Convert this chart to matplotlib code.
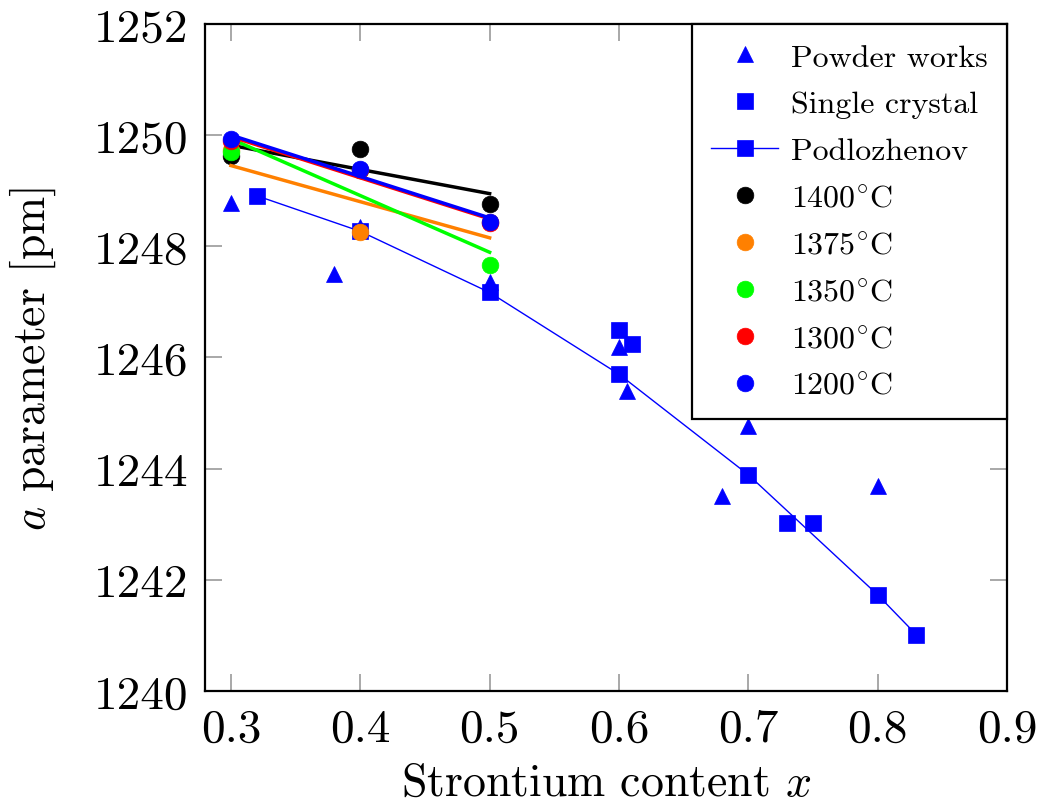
import numpy as np
import matplotlib
matplotlib.use("Agg")
from matplotlib import pyplot as plt

plt.rcParams['font.family'] = 'cmr10'
plt.rcParams['mathtext.fontset'] = 'cm'
plt.rcParams['axes.formatter.use_mathtext'] = True

# powder diffraction literature values
powder_x = [0.30, 0.38, 0.40, 0.50, 0.60, 0.606, 0.68, 0.70, 0.80]
powder_y = [1248.78, 1247.50, 1248.35, 1247.36, 1246.18, 1245.40, 1243.50, 1244.77, 1243.68]

# single crystal literature values
single_x = [0.60, 0.61, 0.73, 0.75]
single_y = [1246.49, 1246.25, 1243.02, 1243.02]

# Podlozhenov series
podl_x = [0.32, 0.40, 0.50, 0.60, 0.70, 0.80, 0.83]
podl_y = [1248.91, 1248.27, 1247.17, 1245.70, 1243.89, 1241.73, 1241.01]

# own samples, by synthesis temperature
temp_x = [0.3, 0.4, 0.5]
temp_labels = ["1400", "1375", "1350", "1300", "1200"]
temp_colors = ["black", (1, 0.5, 0), (0, 1, 0), (1, 0, 0), (0, 0, 1)]
temp_y = [
    [1249.63, 1249.76, 1248.76],
    [1249.73, 1248.25, 1248.43],
    [1249.70, 1249.38, 1247.66],
    [1249.90, 1249.38, 1248.42],
    [1249.93, 1249.40, 1248.44],
]

blue = (0, 0, 1)

fig = plt.figure(figsize=(10.43, 8.12), dpi=100)
ax = fig.add_subplot(111)
fig.subplots_adjust(left=0.1966, right=0.9655, bottom=0.1478, top=0.9692)

ax.plot(powder_x, powder_y, ls='none', marker='^', ms=11, color=blue, mec=blue, mew=0.5,
        label="Powder works")
ax.plot(single_x, single_y, ls='none', marker='s', ms=12, color=blue, mec=blue, mew=0.5,
        label="Single crystal")
ax.plot(podl_x, podl_y, ls='-', lw=1.0, marker='s', ms=12, color=blue, mec=blue, mew=0.5,
        label="Podlozhenov")

xs = np.array(temp_x)
for lab, col, ys in zip(temp_labels, temp_colors, temp_y):
    ax.plot(temp_x, ys, ls='none', marker='o', ms=12, color=col, mec=col, mew=0.5,
            label=r"$%s^{\circ}\mathrm{C}$" % lab)
    p = np.poly1d(np.polyfit(temp_x, ys, 1))
    ax.plot(xs[[0, -1]], p(xs[[0, -1]]), '-', lw=2.5, color=col)

ax.set_xlim(0.28, 0.9)
ax.set_ylim(1240, 1252)
ax.set_xticks(np.arange(0.3, 0.91, 0.1))
ax.set_yticks(np.arange(1240, 1253, 2))
ax.set_xticklabels(["0.3", "0.4", "0.5", "0.6", "0.7", "0.8", "0.9"])
ax.set_yticklabels([str(v) for v in range(1240, 1253, 2)])

ax.tick_params(direction='in', length=12, width=1.2, color='0.6', labelsize=34,
               top=True, right=True)
ax.tick_params(axis='x', pad=12)
ax.tick_params(axis='y', pad=12)
for s in ax.spines.values():
    s.set_linewidth(1.6)

ax.set_xlabel(r"Strontium content $x$", fontsize=33, labelpad=9)
ax.set_ylabel(r"$a$ parameter [pm]", fontsize=33, labelpad=26)

leg = ax.legend(loc='upper right', borderaxespad=0, fancybox=False, framealpha=1,
                edgecolor='black', fontsize=23, handlelength=2.1, labelspacing=0.58,
                handletextpad=0.4, borderpad=0.6, numpoints=1)
leg.get_frame().set_linewidth(1.6)

plt.savefig("out.png", dpi=100)
